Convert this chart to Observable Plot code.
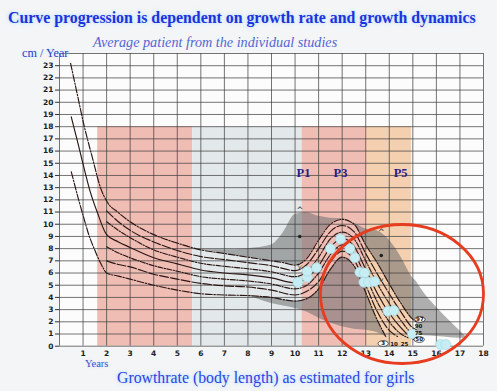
<!DOCTYPE html>
<html><head><meta charset="utf-8">
<script src="https://cdn.jsdelivr.net/npm/d3@7"></script>
<script src="https://cdn.jsdelivr.net/npm/@observablehq/plot@0.6"></script>
<style>
html,body{margin:0;padding:0;background:#f3f5f7;}
#wrap{position:relative;width:497px;height:391px;overflow:hidden;font-family:"Liberation Serif","Times New Roman",serif;}
#chart svg{position:absolute;left:0;top:0;}
.t{position:absolute;white-space:nowrap;line-height:1;}
#title{left:8px;top:9.7px;font-size:15.85px;font-weight:bold;color:#1b33dc;text-shadow:0 0 3px #b9dcff,0 0 6px #d6eaff;}
#sub{left:93px;top:35px;font-size:14.2px;font-style:italic;color:#5566d2;}
#unit{left:22px;top:47px;font-size:12.2px;color:#2840c4;text-shadow:0 0 3px #cfe6ff;}
#years{left:85px;top:359px;font-size:10.5px;color:#3550d2;text-shadow:0 0 3px #cfe6ff;}
#cap{left:117px;top:369.8px;font-size:15.8px;color:#2a45e6;text-shadow:0 0 3px #b9dcff,0 0 6px #d6eaff;}
</style></head><body>
<div id="wrap">
<div id="chart"></div>
<div class="t" id="title">Curve progression is dependent on growth rate and growth dynamics</div>
<div class="t" id="sub">Average patient from the individual studies</div>
<div class="t" id="unit">cm / Year</div>
<div class="t" id="years">Years</div>
<div class="t" id="cap">Growthrate (body length) as estimated for girls</div>
</div>
<script>
// ---- axes ----
const xGrid = [0,1,2,3,4,5,6,7,8,9,10,11,12,13,14,15,16,17,18];
const yGrid = [0,1,2,3,4,5,6,7,8,9,10,11,12,13,14,15,16,17,18,19,20,21,22,23,24];
const xLabels = [1,2,3,4,5,6,7,8,9,10,11,12,13,14,15,16,17,18];
const yLabels = [0,1,2,3,4,5,6,7,8,9,10,11,12,13,14,15,16,17,18,19,20,21,22,23];

// ---- coloured age bands [start, end] ----
const bandStart = [1.62, 5.65, 10.3, 13.0];
const bandEnd   = [5.65, 10.3, 13.0, 14.95];
const bandTop   = [18, 18, 18, 18];
const bandColor = ["#f0bdb5", "#e3e8ea", "#f0bdb5", "#f4d0b0"];

// ---- centile curves [age, cm/year] ----
const c97 = [[0.47,23.2],[0.75,20.7],[1.03,18.2],[1.39,15.5],[1.74,13.0],[2,11.9],[2.5,10.95],[3,10.2],[4,9.15],[5,8.45],[6,7.9],[7,7.6],[8,7.3],[9,7.0],[9.5,6.85],[10,6.65],[10.5,7.2],[11,8.7],[11.5,10.0],[12,10.4],[12.5,10.0],[13,8.3],[13.5,6.8],[14,5.1],[14.5,3.5],[15,2.2],[15.15,2.0]];
const c90 = [[2,11.1],[2.5,10.2],[3,9.5],[4,8.55],[5,7.85],[6,7.35],[7,7.1],[8,6.85],[9,6.6],[10,6.2],[10.5,6.7],[11,8.0],[11.5,9.4],[12,9.9],[12.5,9.4],[13,7.6],[13.5,5.9],[14,4.3],[14.5,2.8],[15,1.5],[15.15,1.35]];
const c75 = [[2,10.2],[2.5,9.5],[3,8.9],[4,7.9],[5,7.3],[6,6.8],[7,6.55],[8,6.35],[9,6.1],[10,5.7],[10.5,6.1],[11,7.3],[11.5,8.8],[12,9.35],[12.5,8.8],[13,7.0],[13.5,5.1],[14,3.5],[14.5,2.1],[15,1.0],[15.15,0.9]];
const c50 = [[0.5,18.8],[0.75,16.9],[1.03,14.7],[1.3,12.7],[1.6,11.0],[2,9.15],[2.5,8.55],[3,8.1],[4,7.25],[5,6.75],[6,6.25],[7,6.0],[8,5.85],[9,5.6],[10,5.2],[10.5,5.6],[11,6.6],[11.5,8.1],[12,8.85],[12.5,8.2],[13,6.3],[13.5,4.3],[14,2.7],[14.5,1.5],[15,0.6],[15.1,0.5]];
const c25 = [[2,8.15],[2.5,7.65],[3,7.25],[4,6.6],[5,6.15],[6,5.7],[7,5.5],[8,5.35],[9,5.1],[10,4.7],[10.5,5.0],[11,6.0],[11.5,7.5],[12,8.3],[12.5,7.6],[13,5.7],[13.5,3.6],[14,2.0],[14.5,1.0],[14.8,0.7]];
const c10 = [[2,7.0],[2.5,6.7],[3,6.5],[4,5.9],[5,5.5],[6,5.15],[7,4.95],[8,4.85],[9,4.6],[10,4.2],[10.5,4.5],[11,5.3],[11.5,6.9],[12,7.8],[12.5,7.1],[13,5.0],[13.5,2.8],[14,1.3],[14.35,0.8]];
const c3  = [[0.5,14.3],[0.8,12.1],[1.05,10.4],[1.25,9.1],[1.45,8.1],[1.8,6.6],[2,6.0],[2.5,5.75],[3,5.5],[4,5.0],[5,4.6],[6,4.3],[7,4.2],[8,4.15],[9,4.0],[10,3.7],[10.5,3.9],[11,4.7],[11.5,6.3],[12,7.3],[12.5,6.6],[13,4.4],[13.5,2.1],[13.85,0.8]];

// ---- grey range of the average patient ----
const upX  = [6,7,8,9,9.5,10,10.5,11,11.5,12,12.5,13,13.5,14,14.5,15,15.15,15.2,15.5,16,16.6,17.3];
const upHi = [7.9,7.9,8.0,8.3,9.3,10.8,10.95,10.65,10.5,10.45,10.1,9.6,9.45,8.7,7.3,5.6,5.3,5.15,4.3,3.2,2.0,0.7];
const upLo = [7.9,7.6,7.3,7.0,6.85,6.65,7.2,8.7,10.0,10.4,10.0,8.3,6.8,5.1,3.5,2.2,2.0,0.95,0.85,0.8,0.7,0.65];
const lowX  = [8,9,10,10.5,11,11.5,12,12.5,13,13.5,13.85];
const lowHi = [4.15,4.0,3.7,3.9,4.7,6.3,7.3,6.6,4.4,2.1,0.8];
const lowLo = [4.15,3.5,3.1,2.8,2.3,1.9,1.6,1.4,1.3,1.1,0.8];

// ---- measured patients ----
const bubAge = [10.12,10.52,10.52,10.91,11.5,11.93,12.33,12.54,12.75,12.95,12.92,13.13,13.38,13.94,14.2,14.98,16.18,16.4];
const bubCm  = [5.25,5.66,6.15,6.43,8.0,8.8,8.0,7.25,6.07,6.0,5.25,5.25,5.3,2.87,2.93,1.0,0.14,0.14];

// ---- labels ----
const pNames = ["P1","P3","P5"];
const pAge = [10.36, 11.93, 14.48];
const pCm = [14.2, 14.2, 14.2];
const cLabel = ["97","90","75","50","3","10","25"];
const cLabAge = [15.3,15.24,15.24,15.27,13.74,14.2,14.65];
const cLabCm = [2.2,1.62,1.1,0.55,0.22,0.18,0.18];
const cCircled = [true,false,false,true,true,false,false];
const markAge = [10.2,13.66];
const markTop = [11.15,9.35];
const markMid = [9.0,7.44];
const markLow = [6.55,5.45];

// ---- highlight ellipse ----
const focus = [{age: 14.54, cm: 4.28}];

function ellipseSymbol(ratio) {
  return {draw(ctx, size) {
    const rx = Math.sqrt(size / Math.PI), ry = rx * ratio, k = 0.5523;
    ctx.moveTo(rx, 0);
    ctx.bezierCurveTo(rx, ry*k, rx*k, ry, 0, ry);
    ctx.bezierCurveTo(-rx*k, ry, -rx, ry*k, -rx, 0);
    ctx.bezierCurveTo(-rx, -ry*k, -rx*k, -ry, 0, -ry);
    ctx.bezierCurveTo(rx*k, -ry, rx, -ry*k, rx, 0);
    ctx.closePath();
  }};
}

const bands = bandStart.map((s, i) => ({x1: s, x2: bandEnd[i], top: bandTop[i], color: bandColor[i]}));
const upper = upX.map((x, i) => ({x, hi: upHi[i], lo: upLo[i]}));
const lower = lowX.map((x, i) => ({x, hi: lowHi[i], lo: lowLo[i]}));
const bubbles = bubAge.map((a, i) => ({age: a, cm: bubCm[i]}));
const pLab = pNames.map((t, i) => ({t, age: pAge[i], cm: pCm[i]}));
const cLab = cLabel.map((t, i) => ({t, age: cLabAge[i], cm: cLabCm[i], circ: cCircled[i]}));
const marks2 = markAge.map((a, i) => ({age: a, top: markTop[i], mid: markMid[i], low: markLow[i]}));

const ink = "#2a1714";
const dashDot = "7,1.6,1.4,1.6";
const curves = [
  {pts: c97, dash: dashDot},
  {pts: c90, dash: "9,2"},
  {pts: c75, dash: "5,1.5,1.2,1.5"},
  {pts: c50, dash: null},
  {pts: c25, dash: "5,1.5,1.2,1.5"},
  {pts: c10, dash: "9,2"},
  {pts: c3, dash: dashDot}
];

const txt = {fontFamily: "DejaVu Sans", fontWeight: "bold", fontSize: 7.5, fill: "#1c1c1c"};

const chart = Plot.plot({
  width: 497, height: 391,
  marginLeft: 59, marginRight: 14, marginTop: 53, marginBottom: 45.3,
  x: {domain: [0, 18], label: null},
  y: {domain: [0, 24], label: null},
  style: {background: "transparent", fontFamily: "DejaVu Sans", fontWeight: "bold", overflow: "visible"},
  marks: [
    Plot.frame({fill: "#fcfcfc", stroke: null}),
    ...bands.map(b => Plot.rect([b], {x1: "x1", x2: "x2", y1: 0, y2: "top", fill: b.color})),
    Plot.areaY(upper, {x: "x", y1: "lo", y2: "hi", fill: "#6e6e6e", fillOpacity: 0.55, curve: "monotone-x"}),
    Plot.areaY(lower, {x: "x", y1: "lo", y2: "hi", fill: "#6e6e6e", fillOpacity: 0.55, curve: "monotone-x"}),
    Plot.ruleX(xGrid, {stroke: "#3a3a3a", strokeWidth: 0.7}),
    Plot.ruleY(yGrid, {stroke: "#3a3a3a", strokeWidth: 0.7}),
    Plot.axisY(yLabels, {tickSize: 4, tickPadding: 2, label: null, ...txt, stroke: "#333"}),
    Plot.axisX(xLabels, {tickSize: 0, tickPadding: 4, label: null, ...txt}),
    ...curves.map(c => Plot.line(c.pts, {x: d => d[0], y: d => d[1], stroke: ink, strokeWidth: 1.15, strokeDasharray: c.dash, curve: "monotone-x"})),
    Plot.text(marks2, {x: "age", y: "top", text: () => "^", fontSize: 8, fill: "#333", fontWeight: "normal"}),
    Plot.dot(marks2, {x: "age", y: "mid", r: 1.8, fill: "#222"}),
    Plot.text(marks2, {x: "age", y: "low", text: () => "v", fontSize: 7, fill: "#333", fontWeight: "normal"}),
    Plot.dot(bubbles, {x: "age", y: "cm", r: 5, fill: "#c6edf3", stroke: "#a0d6df", strokeWidth: 0.6}),
    Plot.text(pLab, {x: "age", y: "cm", text: "t", fontFamily: "Liberation Serif", fontWeight: "bold", fontSize: 12.5, fill: "#2c1b86"}),
    Plot.dot(cLab.filter(d => d.circ), {x: "age", y: "cm", r: 5.2, symbol: ellipseSymbol(0.55), fill: "#fff", stroke: "#111", strokeWidth: 0.7}),
    Plot.text(cLab, {x: "age", y: "cm", text: "t", fontFamily: "DejaVu Sans", fontWeight: "bold", fontSize: 5.5, fill: "#111"}),
    Plot.dot(focus, {x: "age", y: "cm", r: 81.5, symbol: ellipseSymbol(0.853), fill: "none", stroke: "#e63c1f", strokeWidth: 2.8})
  ]
});
document.getElementById("chart").appendChild(chart);
</script>
</body></html>
